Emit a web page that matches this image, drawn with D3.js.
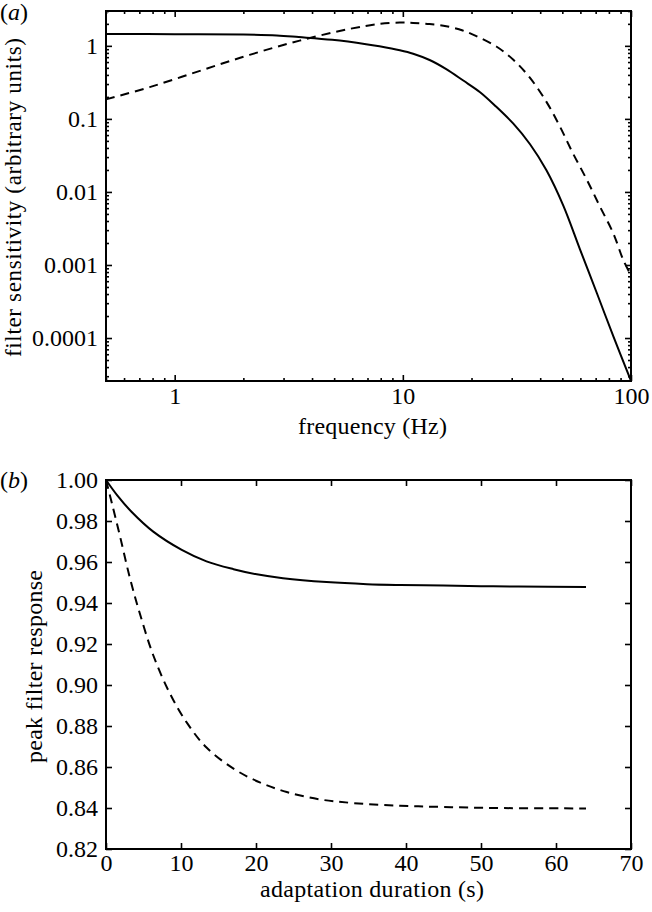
<!DOCTYPE html>
<html>
<head>
<meta charset="utf-8">
<script src="https://cdn.jsdelivr.net/npm/d3@7"></script>
<style>
  html, body { margin: 0; padding: 0; background: #fff; }
  svg { display: block; }
  svg text { font-family: "Liberation Serif", "Tinos", "Nimbus Roman", "Times New Roman", Times, "DejaVu Serif", serif; fill: #000; }
</style>
</head>
<body>
<svg id="chart" width="652" height="912"></svg>
<script>
// ---------- Panel (a) data ----------
const freqSolid = [0.5, 1.0, 2.0, 2.8, 3.5, 4.9, 6.9, 7.9, 9.7, 11.1, 13.1, 15.5, 18.4, 21.8, 25.3, 30.5, 36.1, 42.6, 50.5, 59.7, 70.9, 83.7, 100];
const sensSolid = [1.45, 1.445, 1.43, 1.39, 1.32, 1.21, 1.055, 0.985, 0.87, 0.78, 0.64, 0.48, 0.335, 0.232, 0.153, 0.086, 0.045, 0.0198, 0.0065, 0.00165, 0.00041, 0.000105, 0.000026];
const freqDashed = [0.5, 0.777, 1.29, 2.13, 3.53, 5.86, 7.93, 9.7, 11.1, 13.1, 15.5, 18.3, 21.0, 25.7, 30.5, 36.1, 42.6, 48.8, 55.6, 64.1, 73.1, 83.7, 92.4, 100];
const sensDashed = [0.185, 0.272, 0.455, 0.753, 1.18, 1.71, 2.0, 2.08, 2.06, 1.99, 1.86, 1.62, 1.36, 0.98, 0.645, 0.364, 0.171, 0.0785, 0.034, 0.0146, 0.0063, 0.0027, 0.00118, 0.00072];
const freqTicks = [1, 10, 100];
const freqTickLabels = ["1", "10", "100"];
const sensTicks = [1, 0.1, 0.01, 0.001, 0.0001];
const sensTickLabels = ["1", "0.1", "0.01", "0.001", "0.0001"];

// ---------- Panel (b) data ----------
const durSolid = [0, 1.5, 3.4, 6.3, 10.1, 13.4, 17.0, 20.1, 23.6, 29.4, 34.8, 39.2, 45, 50, 55, 64];
const respSolid = [1.0, 0.9925, 0.9845, 0.9748, 0.9659, 0.9603, 0.9565, 0.954, 0.9521, 0.9502, 0.9492, 0.9488, 0.9485, 0.9482, 0.948, 0.9478];
const durDashed = [0, 0.76, 1.87, 3.2, 4.5, 6.3, 8.5, 10.8, 13.4, 17.0, 20.5, 24.1, 28.5, 33.0, 39.2, 45, 52, 64];
const respDashed = [1.0, 0.989, 0.9725, 0.952, 0.935, 0.9145, 0.896, 0.8815, 0.8695, 0.8592, 0.8525, 0.8478, 0.8442, 0.8424, 0.8411, 0.8405, 0.840, 0.8398];
const durTicks = [0, 10, 20, 30, 40, 50, 60, 70];
const respTicks = [0.82, 0.84, 0.86, 0.88, 0.90, 0.92, 0.94, 0.96, 0.98, 1.00];

const svg = d3.select("#chart");
const FS = 24;
const FONT = '"Liberation Serif", "Tinos", "Nimbus Roman", "Times New Roman", Times, "DejaVu Serif", serif';
const MAJ = 6, MIN = 3;

function frame(g, w, h) {
  g.append("rect").attr("x", 0).attr("y", 0).attr("width", w).attr("height", h)
    .attr("fill", "none").attr("stroke", "#000").attr("stroke-width", 2);
}
function styleAxis(sel) {
  sel.attr("font-family", FONT);
  sel.select(".domain").remove();
  sel.selectAll(".tick line").attr("stroke", "#000").attr("stroke-width", 1.6);
  sel.selectAll(".tick text").attr("font-size", FS).attr("font-family", FONT).attr("fill", "#000");
}
function logMinors(lo, hi) {
  const out = [];
  for (let e = Math.floor(Math.log10(lo)); e <= Math.ceil(Math.log10(hi)); e++) {
    for (let k = 2; k <= 9; k++) {
      const v = k * Math.pow(10, e);
      if (v >= lo && v <= hi) out.push(v);
    }
  }
  return out;
}
function title(sel, len, fs) {
  return sel.attr("font-size", fs || FS).attr("textLength", len).attr("lengthAdjust", "spacing");
}

// ---------- Panel (a) ----------
{
  const L = 106, T = 11, W = 525, H = 370;
  const g = svg.append("g").attr("transform", `translate(${L},${T})`);
  const x = d3.scaleLog().domain([0.5, 100]).range([0, W]);
  const y = d3.scaleLog().domain([2.58e-5, 3.0]).range([H, 0]);
  const xMin = logMinors(0.5, 100).filter(v => freqTicks.indexOf(v) < 0);
  const yMin = logMinors(2.58e-5, 3.0).filter(v => sensTicks.indexOf(v) < 0);

  g.append("g").attr("transform", `translate(0,${H})`).call(d3.axisBottom(x).tickValues(xMin).tickSize(-MIN).tickFormat("")).call(styleAxis);
  g.append("g").call(d3.axisTop(x).tickValues(xMin).tickSize(-MIN).tickFormat("")).call(styleAxis);
  g.append("g").call(d3.axisLeft(y).tickValues(yMin).tickSize(-MIN).tickFormat("")).call(styleAxis);
  g.append("g").attr("transform", `translate(${W},0)`).call(d3.axisRight(y).tickValues(yMin).tickSize(-MIN).tickFormat("")).call(styleAxis);
  g.append("g").attr("transform", `translate(0,${H})`)
    .call(d3.axisBottom(x).tickValues(freqTicks).tickSize(-MAJ).tickPadding(6).tickFormat((d, i) => freqTickLabels[i])).call(styleAxis);
  g.append("g").call(d3.axisTop(x).tickValues(freqTicks).tickSize(-MAJ).tickFormat("")).call(styleAxis);
  g.append("g").call(d3.axisLeft(y).tickValues(sensTicks).tickSize(-MAJ).tickPadding(8).tickFormat((d, i) => sensTickLabels[i])).call(styleAxis);
  g.append("g").attr("transform", `translate(${W},0)`).call(d3.axisRight(y).tickValues(sensTicks).tickSize(-MAJ).tickFormat("")).call(styleAxis);

  const line = d3.line().x(d => x(d[0])).y(d => y(d[1])).curve(d3.curveCatmullRom.alpha(0.5));
  g.append("path").datum(freqSolid.map((f, i) => [f, sensSolid[i]]))
    .attr("d", line).attr("fill", "none").attr("stroke", "#000").attr("stroke-width", 2);
  g.append("path").datum(freqDashed.map((f, i) => [f, sensDashed[i]]))
    .attr("d", line).attr("fill", "none").attr("stroke", "#000").attr("stroke-width", 2).attr("stroke-dasharray", "9,6");
  frame(g, W, H);

  title(svg.append("text").attr("x", 298).attr("y", 434), 149).text("frequency (Hz)");
  title(svg.append("text").attr("transform", `translate(21,357) rotate(-90)`), 319, 23).text("filter sensitivity (arbitrary units)");
  const lab = svg.append("text").attr("x", 0).attr("y", 20).attr("font-size", FS);
  lab.append("tspan").text("(");
  lab.append("tspan").attr("font-style", "italic").text("a");
  lab.append("tspan").text(")");
}

// ---------- Panel (b) ----------
{
  const L = 106, T = 480, W = 525, H = 369;
  const g = svg.append("g").attr("transform", `translate(${L},${T})`);
  const x = d3.scaleLinear().domain([0, 70]).range([0, W]);
  const y = d3.scaleLinear().domain([0.82, 1.0]).range([H, 0]);

  g.append("g").attr("transform", `translate(0,${H})`)
    .call(d3.axisBottom(x).tickValues(durTicks).tickSize(-MAJ).tickPadding(5).tickFormat(d3.format("d"))).call(styleAxis);
  g.append("g").call(d3.axisTop(x).tickValues(durTicks).tickSize(-MAJ).tickFormat("")).call(styleAxis);
  g.append("g").call(d3.axisLeft(y).tickValues(respTicks).tickSize(-MAJ).tickPadding(8).tickFormat(d3.format(".2f"))).call(styleAxis);
  g.append("g").attr("transform", `translate(${W},0)`).call(d3.axisRight(y).tickValues(respTicks).tickSize(-MAJ).tickFormat("")).call(styleAxis);

  const line = d3.line().x(d => x(d[0])).y(d => y(d[1])).curve(d3.curveCatmullRom.alpha(0.5));
  g.append("path").datum(durSolid.map((t, i) => [t, respSolid[i]]))
    .attr("d", line).attr("fill", "none").attr("stroke", "#000").attr("stroke-width", 2);
  g.append("path").datum(durDashed.map((t, i) => [t, respDashed[i]]))
    .attr("d", line).attr("fill", "none").attr("stroke", "#000").attr("stroke-width", 2).attr("stroke-dasharray", "9,6");
  frame(g, W, H);

  title(svg.append("text").attr("x", 260).attr("y", 897), 224).text("adaptation duration (s)");
  title(svg.append("text").attr("transform", `translate(42,763) rotate(-90)`), 193).text("peak filter response");
  const lab = svg.append("text").attr("x", 0).attr("y", 488).attr("font-size", FS);
  lab.append("tspan").text("(");
  lab.append("tspan").attr("font-style", "italic").text("b");
  lab.append("tspan").text(")");
}
</script>
</body>
</html>
